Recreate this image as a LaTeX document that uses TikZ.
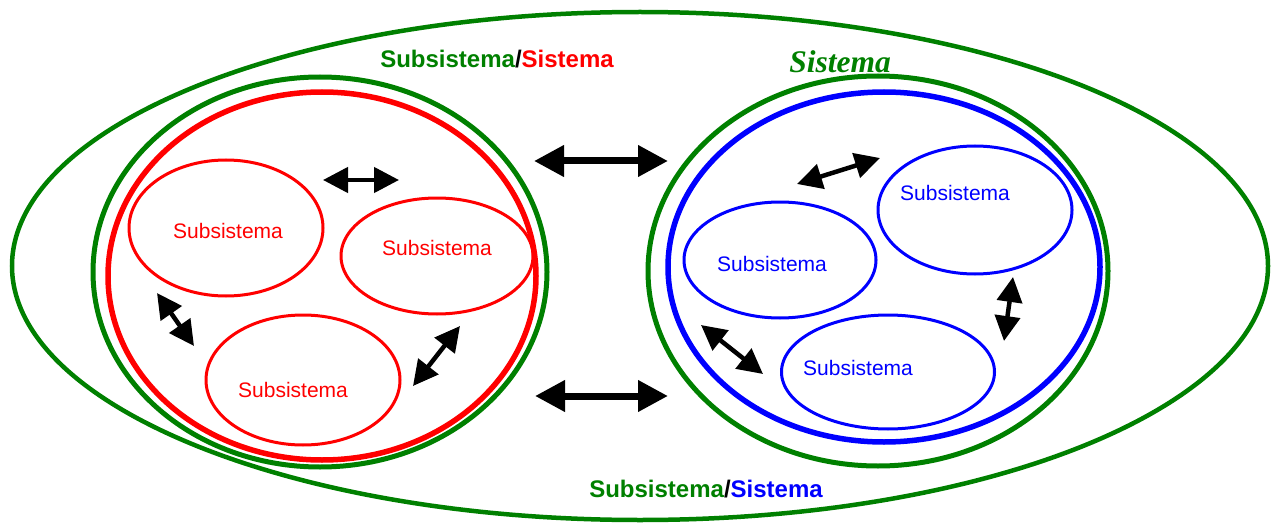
\documentclass[tikz,border=0pt]{standalone}
\usepackage{fontspec}
\setmainfont{Liberation Sans}
\newfontfamily\titlefont{Liberation Serif}
\usetikzlibrary{arrows.meta,shapes.geometric}
\definecolor{sgreen}{RGB}{0,128,0}
\definecolor{sred}{RGB}{255,0,0}
\definecolor{sblue}{RGB}{0,0,255}
\tikzset{
  bigarrow/.style={line width=7pt,
    {Triangle[length=30pt,width=30pt]}-{Triangle[length=30pt,width=30pt]}},
  smallarrow/.style={line width=4.5pt,
    {Triangle[length=25pt,width=25pt]}-{Triangle[length=25pt,width=25pt]}},
  subbox/.style={draw, line width=3pt, ellipse},
  subtext/.style={font=\fontsize{21}{24}\selectfont},
  labelfont/.style={font=\fontsize{24}{28}\selectfont\bfseries},
}
\begin{document}
\begin{tikzpicture}[x=1pt,y=-1pt]
\useasboundingbox (0,0) rectangle (1272,524);
% outer system
\draw[sgreen, line width=4.5pt] (640,266) ellipse [x radius=628, y radius=254];
% left subsystem
\draw[sgreen, line width=5pt] (320,272) ellipse [x radius=227, y radius=195];
\draw[sred, line width=5.5pt] (322,276) ellipse [x radius=214, y radius=184];
% right subsystem
\draw[sgreen, line width=5pt] (878,271) ellipse [x radius=230, y radius=195];
\draw[sblue, line width=5.5pt] (884,267) ellipse [x radius=216, y radius=175];
% left inner subsystems
\node[subbox, sred, minimum width=194pt, minimum height=136pt] (l1) at (226,228) {};
\node[subbox, sred, minimum width=192pt, minimum height=116pt] (l2) at (437,256) {};
\node[subbox, sred, minimum width=194pt, minimum height=130pt] (l3) at (303,380) {};
\node[sred, subtext] (l1t) at (228,231) {Subsistema};
\node[sred, subtext] (l2t) at (437,248) {Subsistema};
\node[sred, subtext] (l3t) at (293,390) {Subsistema};
% right inner subsystems
\node[subbox, sblue, minimum width=194pt, minimum height=128pt] (r1) at (975,210) {};
\node[subbox, sblue, minimum width=192pt, minimum height=116pt] (r2) at (780,260) {};
\node[subbox, sblue, minimum width=213pt, minimum height=114pt] (r3) at (888,372) {};
\node[sblue, subtext] (r1t) at (955,193) {Subsistema};
\node[sblue, subtext] (r2t) at (772,264) {Subsistema};
\node[sblue, subtext] (r3t) at (858,368) {Subsistema};
% arrow end points
\coordinate (ta1) at (534,161); \coordinate (ta2) at (668,161);
\coordinate (ba1) at (535,396); \coordinate (ba2) at (668,396);
\coordinate (la1) at (323,180); \coordinate (la2) at (399,180);
\coordinate (lb1) at (157,293); \coordinate (lb2) at (194,346);
\coordinate (lc1) at (413,386); \coordinate (lc2) at (460,326);
\coordinate (ra1) at (797,184); \coordinate (ra2) at (880,158);
\coordinate (rb1) at (1013,277); \coordinate (rb2) at (1004,341);
\coordinate (rc1) at (701,325); \coordinate (rc2) at (763,374);
\draw[bigarrow] (ta1) -- (ta2);
\draw[bigarrow] (ba1) -- (ba2);
\draw[smallarrow] (la1) -- (la2);
\draw[smallarrow] (lb1) -- (lb2);
\draw[smallarrow] (lc1) -- (lc2);
\draw[smallarrow] (ra1) -- (ra2);
\draw[smallarrow] (rb1) -- (rb2);
\draw[smallarrow] (rc1) -- (rc2);
% labels
\node[labelfont] (toplab) at (497,59) {\textcolor{sgreen}{Subsistema}/\textcolor{sred}{Sistema}};
\node[labelfont] (botlab) at (706,489) {\textcolor{sgreen}{Subsistema}/\textcolor{sblue}{Sistema}};
\node[sgreen, font=\fontsize{31.5}{36}\selectfont\titlefont\bfseries\itshape] (sys) at (840,62) {Sistema};
\end{tikzpicture}
\end{document}
